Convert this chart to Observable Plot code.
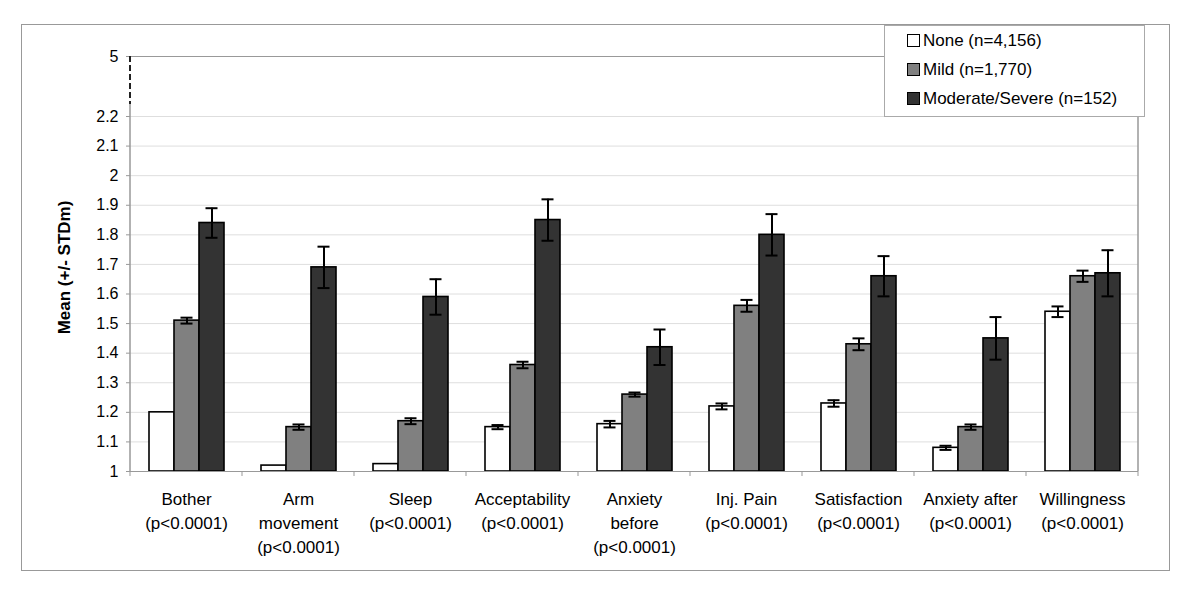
<!DOCTYPE html>
<html>
<head>
<meta charset="utf-8">
<script src="https://cdn.jsdelivr.net/npm/d3@7"></script>
<script src="https://cdn.jsdelivr.net/npm/@observablehq/plot@0.6"></script>
<style>
  html, body { margin: 0; padding: 0; background: #fff; }
  #wrap { position: relative; width: 1200px; height: 592px; font-family: "Liberation Sans", Arial, sans-serif; }
  #outer { position: absolute; left: 21px; top: 24px; width: 1149px; height: 547px; border: 1px solid #999; box-sizing: border-box; }
  #legend { position: absolute; left: 884px; top: 25px; width: 261px; height: 92px; border: 1px solid #aaa; background: #fff; box-sizing: border-box; }
  .li { position: absolute; left: 22px; height: 20px; font-size: 17px; line-height: 20px; color: #000; white-space: nowrap; }
  .sw { display: inline-block; width: 11px; height: 11px; border: 1px solid #000; margin-right: 3px; vertical-align: -1px; }
  svg { position: absolute; left: 0; top: 0; }
</style>
</head>
<body>
<div id="wrap"><div id="outer"></div></div>
<script>
const categories = ["Bother", "Arm movement", "Sleep", "Acceptability", "Anxiety before", "Inj. Pain", "Satisfaction", "Anxiety after", "Willingness"];
const tickLabels = ["Bother\n(p<0.0001)", "Arm\nmovement\n(p<0.0001)", "Sleep\n(p<0.0001)", "Acceptability\n(p<0.0001)", "Anxiety\nbefore\n(p<0.0001)", "Inj. Pain\n(p<0.0001)", "Satisfaction\n(p<0.0001)", "Anxiety after\n(p<0.0001)", "Willingness\n(p<0.0001)"];
const seriesNames = ["None (n=4,156)", "Mild (n=1,770)", "Moderate/Severe (n=152)"];
const seriesColors = ["#ffffff", "#808080", "#333333"];
const noneMean = [1.20, 1.02, 1.025, 1.15, 1.16, 1.22, 1.23, 1.08, 1.54];
const noneErr  = [0, 0, 0, 0.007, 0.011, 0.010, 0.011, 0.007, 0.018];
const mildMean = [1.51, 1.15, 1.17, 1.36, 1.26, 1.56, 1.43, 1.15, 1.66];
const mildErr  = [0.010, 0.009, 0.010, 0.011, 0.007, 0.020, 0.020, 0.009, 0.019];
const modMean  = [1.84, 1.69, 1.59, 1.85, 1.42, 1.80, 1.66, 1.45, 1.67];
const modErr   = [0.05, 0.07, 0.06, 0.07, 0.06, 0.07, 0.068, 0.072, 0.078];
const yTicks = [1, 1.1, 1.2, 1.3, 1.4, 1.5, 1.6, 1.7, 1.8, 1.9, 2, 2.1, 2.2, 5];
const gridTicks = [1.1, 1.2, 1.3, 1.4, 1.5, 1.6, 1.7, 1.8, 1.9, 2, 2.1, 2.2];
const yLabel = "Mean (+/- STDm)";

const means = [noneMean, mildMean, modMean];
const errs = [noneErr, mildErr, modErr];
const rows = [];
categories.forEach((c, i) => {
  seriesNames.forEach((s, j) => {
    rows.push({cat: c, series: s, value: means[j][i], err: errs[j][i]});
  });
});
const errRows = rows.filter(d => d.err > 0);
const labelOf = Object.fromEntries(categories.map((c, i) => [c, tickLabels[i]]));

const W = 1200, H = 592;
const mL = 126, mR = 58, mT = 56, mB = 121;
const font = "Liberation Sans, Arial, sans-serif";

const chart = Plot.plot({
  width: W, height: H,
  marginLeft: mL, marginRight: mR, marginTop: mT, marginBottom: mB,
  style: {fontFamily: font, background: "transparent", color: "#000"},
  fx: {domain: categories, padding: 0},
  x: {domain: seriesNames, paddingInner: 0, paddingOuter: 0.7, axis: null},
  y: {type: "linear", domain: [1, 2.2, 5], range: [H - mB, 116, mT]},
  color: {domain: seriesNames, range: seriesColors},
  marks: [
    Plot.ruleY(gridTicks, {stroke: "#dedede", strokeWidth: 1}),
    Plot.ruleY([5], {stroke: "#999", strokeWidth: 1.2}),
    Plot.barY(rows, {fx: "cat", x: "series", y1: 1, y2: "value", fill: "series", stroke: "#000", strokeWidth: 1.6}),
    Plot.ruleX(errRows, {fx: "cat", x: "series", y1: d => d.value - d.err, y2: d => d.value + d.err, stroke: "#000", strokeWidth: 2}),
    Plot.tickY(errRows, {fx: "cat", x: "series", y: d => d.value + d.err, stroke: "#000", strokeWidth: 2, insetLeft: 6.5, insetRight: 6.5}),
    Plot.tickY(errRows, {fx: "cat", x: "series", y: d => d.value - d.err, stroke: "#000", strokeWidth: 2, insetLeft: 6.5, insetRight: 6.5}),
    Plot.ruleY([1], {stroke: "#999", strokeWidth: 1.2}),
    Plot.axisY({ticks: yTicks, tickFormat: d => String(d), tickSize: 4, tickPadding: 8, stroke: "#999", fontSize: 16, label: null}),
    Plot.axisFx({anchor: "bottom", tickSize: 0, tickPadding: 17, fontSize: 17, lineHeight: 1.4, tickFormat: c => labelOf[c], label: null})
  ]
});

// frame lines and category boundary ticks, placed through the chart's scales
const fx = chart.scale("fx");
const y = chart.scale("y");
const g = d3.select(chart).append("g");
const x0 = fx.apply(categories[0]);
const xEnd = fx.apply(categories[categories.length - 1]) + fx.bandwidth;
const y1 = y.apply(1), y22 = y.apply(2.2), y5 = y.apply(5);
g.append("line").attr("x1", x0).attr("x2", x0).attr("y1", y1).attr("y2", y22 - 12).attr("stroke", "#999").attr("stroke-width", 1.5);
g.append("line").attr("x1", x0).attr("x2", x0).attr("y1", y5).attr("y2", y22 - 12).attr("stroke", "#222").attr("stroke-width", 2).attr("stroke-dasharray", "6,3");
g.append("line").attr("x1", xEnd).attr("x2", xEnd).attr("y1", y1).attr("y2", y5).attr("stroke", "#999").attr("stroke-width", 1.5);
const bounds = categories.map(c => fx.apply(c)).concat([xEnd]);
g.selectAll("line.bt").data(bounds).join("line").attr("class", "bt")
  .attr("x1", d => d).attr("x2", d => d).attr("y1", y1).attr("y2", y1 + 5).attr("stroke", "#999").attr("stroke-width", 1);
g.append("text").attr("transform", `translate(66,${(y1 + y5) / 2 + 4}) rotate(-90)`)
  .attr("text-anchor", "middle").attr("dominant-baseline", "middle")
  .attr("font-size", 17).attr("font-weight", "bold").attr("font-family", font).text(yLabel);

const wrap = document.getElementById("wrap");
wrap.appendChild(chart);

const legend = document.createElement("div");
legend.id = "legend";
seriesNames.forEach((s, j) => {
  const it = document.createElement("div");
  it.className = "li";
  it.style.top = (5 + j * 29) + "px";
  const sw = document.createElement("span");
  sw.className = "sw";
  sw.style.background = seriesColors[j];
  it.appendChild(sw);
  it.appendChild(document.createTextNode(s));
  legend.appendChild(it);
});
wrap.appendChild(legend);
</script>
</body>
</html>
